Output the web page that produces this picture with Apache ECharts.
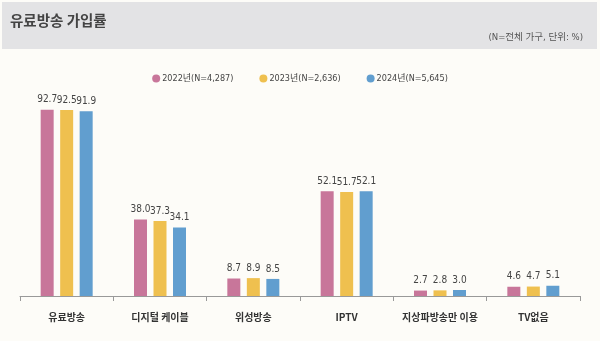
<!DOCTYPE html>
<html><head><meta charset="utf-8">
<script src="https://cdn.jsdelivr.net/npm/echarts@6/dist/echarts.min.js"></script>
<style>html,body{margin:0;padding:0;background:#fdfcf8}#c{width:600px;height:341px}</style>
</head><body><div id="c"></div>
<script>
const categories = ['유료방송', '디지털 케이블', '위성방송', 'IPTV', '지상파방송만 이용', 'TV없음'];
const seriesNames = ['2022년(N=4,287)', '2023년(N=2,636)', '2024년(N=5,645)'];
const values2022 = [92.7, 38.0, 8.7, 52.1, 2.7, 4.6];
const values2023 = [92.5, 37.3, 8.9, 51.7, 2.8, 4.7];
const values2024 = [91.9, 34.1, 8.5, 52.1, 3.0, 5.1];
const colors = ['#c8769a', '#efc04f', '#619ecf'];

const chart = echarts.init(document.getElementById('c'), null, {renderer: 'canvas'});
const numFont = "'DejaVu Sans Condensed', 'Liberation Sans Narrow', 'Noto Sans CJK KR', sans-serif";
const allValues = [values2022, values2023, values2024];
chart.setOption({
  backgroundColor: '#fdfcf8',
  animation: false,
  graphic: [{
    type: 'rect', shape: {x: 2, y: 2, width: 595, height: 47},
    style: {fill: '#e3e3e5'}, z: -1
  }],
  title: [{
    text: '유료방송 가입률', left: 5, top: 8,
    textStyle: {fontSize: 14.5, fontWeight: 'bold', color: '#444', fontFamily: 'Noto Sans CJK KR'}
  }, {
    text: '(N=전체 가구, 단위: %)', right: 12, top: 28,
    textStyle: {fontSize: 9.5, fontWeight: 'normal', color: '#555', fontFamily: numFont}
  }],
  legend: {
    top: 69, left: 'center', icon: 'circle', itemWidth: 8, itemHeight: 8, itemGap: 26,
    textStyle: {fontSize: 9, color: '#444', fontFamily: numFont, padding: [0, 0, 0, -3]},
    data: seriesNames
  },
  grid: {left: 20, right: 20, top: 95, bottom: 45, containLabel: false},
  xAxis: {
    type: 'category', data: categories,
    axisLine: {lineStyle: {color: '#999', width: 1}},
    axisTick: {show: true, length: 5, inside: false, lineStyle: {color: '#999'}},
    axisLabel: {interval: 0, fontSize: 10, fontWeight: 'bold', color: '#333', margin: 16, fontFamily: 'Noto Sans CJK KR'}
  },
  yAxis: {type: 'value', min: 0, max: 100, show: false, splitLine: {show: false}},
  series: seriesNames.map((n, i) => ({
    name: n, type: 'bar', data: allValues[i], barWidth: 13, barGap: '50%',
    itemStyle: {color: colors[i]},
    label: {show: true, position: 'top', distance: 5, fontSize: 10, color: '#444', fontFamily: numFont,
      formatter: p => p.value.toFixed(1)}
  }))
});
</script></body></html>
